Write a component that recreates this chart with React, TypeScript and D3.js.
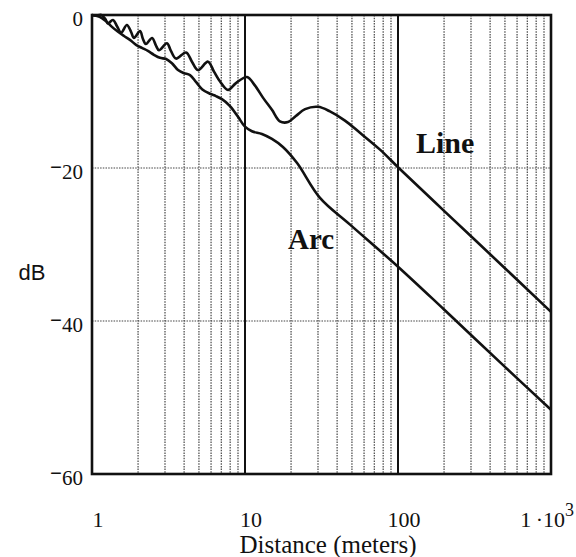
import React from "react";
import * as d3 from "d3";

const lineDist = [1, 1.06, 1.15, 1.22, 1.27, 1.37, 1.46, 1.55, 1.69, 1.8, 1.88, 2.06, 2.15, 2.25, 2.47, 2.62, 2.74, 3.09, 3.28, 3.54, 4.12, 4.5, 4.93, 5.73, 6.27, 6.87, 7.74, 8.73, 10.3, 11.6, 13.1, 15.0, 16.9, 19.1, 21.5, 24.7, 30.0, 35.9, 45.0, 56.4, 76.3, 100, 200, 500, 1000];
const lineDb = [0, -0.1, 0, -0.5, -1.1, -0.65, -1.5, -2.3, -1.3, -2.2, -3.0, -2.1, -3.1, -3.8, -3.0, -4.0, -4.6, -3.7, -4.7, -5.7, -4.9, -6.1, -7.2, -6.1, -7.4, -8.7, -9.8, -8.9, -8.1, -9.2, -10.8, -12.4, -13.9, -14.0, -13.2, -12.3, -12.0, -12.6, -13.8, -15.4, -17.6, -19.9, -25.6, -33.1, -38.8];

const arcDist = [1, 1.08, 1.16, 1.25, 1.35, 1.48, 1.62, 1.77, 1.94, 2.12, 2.32, 2.54, 2.78, 3.05, 3.33, 3.65, 3.99, 4.37, 4.78, 5.24, 5.91, 6.46, 7.07, 7.98, 9.0, 10, 11.1, 12.9, 15.0, 17.7, 21.9, 30.9, 48.6, 100, 200, 500, 1000];
const arcDb = [0, -0.13, -0.4, -0.9, -1.55, -2.2, -2.75, -3.25, -3.9, -4.3, -4.7, -5.2, -5.6, -5.75, -6.3, -7.2, -7.6, -7.85, -8.75, -9.7, -10.3, -10.6, -11.0, -11.9, -13.3, -14.6, -15.2, -15.55, -16.2, -17.25, -19.35, -23.9, -27.4, -32.9, -38.5, -46.0, -51.6];

const yTicks = [0, -20, -40, -60];
const xTickLabels = ["1", "10", "100"];
const xTickValues = [1, 10, 100];
const seriesLabels = ["Line", "Arc"];

const W = 576, H = 557;
const left = 92, right = 551, top = 15, bottom = 474;

export default function App() {
  const x = d3.scaleLog().domain([1, 1000]).range([left, right]);
  const y = d3.scaleLinear().domain([-60, 0]).range([bottom, top]);

  const minor: number[] = [];
  [1, 10, 100].forEach((dec) => {
    for (let k = 2; k <= 9; k++) minor.push(dec * k);
  });

  const gen = d3
    .line<[number, number]>()
    .x((d) => x(d[0]))
    .y((d) => y(d[1]))
    .curve(d3.curveCatmullRom.alpha(0.5));

  const linePts = lineDist.map((d, i) => [d, lineDb[i]] as [number, number]);
  const arcPts = arcDist.map((d, i) => [d, arcDb[i]] as [number, number]);

  const serif = "'Liberation Serif', 'Times New Roman', serif";

  return (
    <svg width={W} height={H} style={{ position: "absolute", left: 0, top: 0, background: "#fff" }}>
      <rect x={0} y={0} width={W} height={H} fill="#fff" />
      {minor.map((v) => (
        <line key={"m" + v} x1={x(v)} x2={x(v)} y1={top} y2={bottom} stroke="#444" strokeWidth={1.2} strokeDasharray="1.5,1.2" />
      ))}
      {[-20, -40].map((v) => (
        <line key={"h" + v} x1={left} x2={right} y1={y(v)} y2={y(v)} stroke="#444" strokeWidth={1.2} strokeDasharray="1.5,1.2" />
      ))}
      {[10, 100].map((v) => (
        <line key={"d" + v} x1={x(v)} x2={x(v)} y1={top} y2={bottom} stroke="#111" strokeWidth={2} />
      ))}
      <path d={gen(linePts) || ""} fill="none" stroke="#111" strokeWidth={2.6} strokeLinejoin="round" />
      <path d={gen(arcPts) || ""} fill="none" stroke="#111" strokeWidth={2.6} strokeLinejoin="round" />
      <rect x={left} y={top} width={right - left} height={bottom - top} fill="none" stroke="#111" strokeWidth={2.6} />
      {yTicks.map((v) => (
        <text key={"yt" + v} x={83} y={y(v) + 11} textAnchor="end" fontFamily={serif} fontSize={21} fill="#111">
          {v < 0 ? (
            <>
              <tspan fontWeight="bold" dy={-5}>{"\u2212"}</tspan>
              <tspan dy={5}>{String(-v)}</tspan>
            </>
          ) : (
            String(v)
          )}
        </text>
      ))}
      {xTickValues.map((v, i) => (
        <text key={"xt" + v} x={x(v) + 6} y={527} textAnchor="middle" fontFamily={serif} fontSize={22} fill="#111">
          {xTickLabels[i]}
        </text>
      ))}
      <text x={565} y={527} textAnchor="end" fontFamily={serif} fontSize={22} fill="#111">
        1{"\u2009\u00b7"}10
      </text>
      <text x={565} y={516} fontFamily={serif} fontSize={18} fill="#111">
        3
      </text>
      <text x={328} y={553} textAnchor="middle" fontFamily={serif} fontSize={25} fill="#111">
        Distance (meters)
      </text>
      <text x={32} y={280} textAnchor="middle" fontFamily="'Liberation Sans', Arial, sans-serif" fontSize={22} fill="#111">
        dB
      </text>
      <text x={416} y={153} fontFamily={serif} fontWeight="bold" fontSize={30} fill="#111">
        {seriesLabels[0]}
      </text>
      <text x={288} y={249} fontFamily={serif} fontWeight="bold" fontSize={29} fill="#111">
        {seriesLabels[1]}
      </text>
    </svg>
  );
}
